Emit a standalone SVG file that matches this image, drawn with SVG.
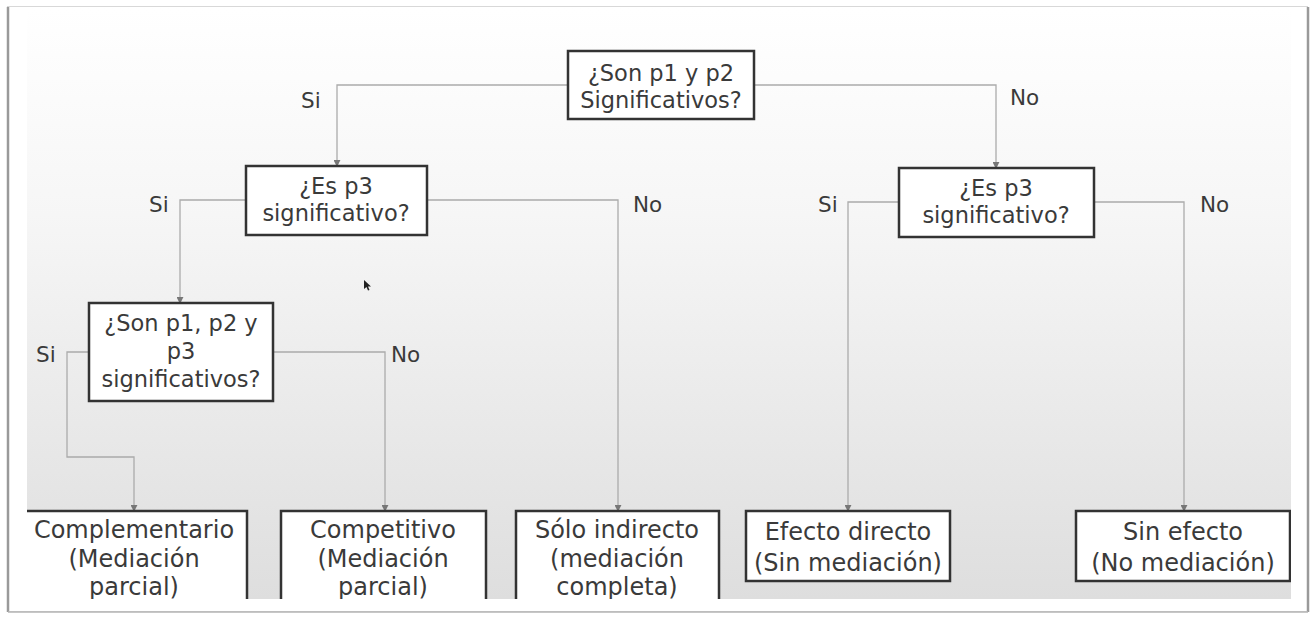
<svg xmlns="http://www.w3.org/2000/svg" width="1312" height="617" viewBox="0 0 1312 617">
  <defs>
    <linearGradient id="slideBg" x1="0" y1="0" x2="0" y2="1">
      <stop offset="0" stop-color="#ffffff"/>
      <stop offset="0.35" stop-color="#f6f6f6"/>
      <stop offset="1" stop-color="#dedede"/>
    </linearGradient>
    <clipPath id="slideClip">
      <rect x="27" y="8" width="1264" height="591"/>
    </clipPath>
    <marker id="arrow" viewBox="0 0 8 8" refX="7" refY="4" markerWidth="7" markerHeight="7" markerUnits="userSpaceOnUse" orient="auto">
      <path d="M0,0 L8,4 L0,8 z" fill="#777"/>
    </marker>
    <style>
      .box { fill: #ffffff; stroke: #333333; stroke-width: 2.5; }
      .txt { font-family: "DejaVu Sans", "Liberation Sans", sans-serif; fill: #3a3a3a; text-anchor: middle; }
      .q { font-size: 22.5px; }
      .res { font-size: 24px; }
      .lbl { font-family: "DejaVu Sans", "Liberation Sans", sans-serif; fill: #3a3a3a; font-size: 21.5px; }
      .edge { fill: none; stroke: #ababab; stroke-width: 1.3; }
      .edgeA { fill: none; stroke: #ababab; stroke-width: 1.3; marker-end: url(#arrow); }
    </style>
  </defs>

  <!-- page frame -->
  <rect x="0" y="0" width="1312" height="617" fill="#ffffff"/>
  <rect x="7.5" y="6.5" width="1300" height="605" fill="#ffffff" stroke="#d8d8d8" stroke-width="1"/>
  <line x1="8" y1="7" x2="8" y2="612" stroke="#9a9a9a" stroke-width="2.5"/>
  <line x1="1308" y1="7" x2="1308" y2="612" stroke="#9a9a9a" stroke-width="2.5"/>
  <line x1="8" y1="612" x2="1308" y2="612" stroke="#b5b5b5" stroke-width="1.5"/>

  <!-- slide area -->
  <rect x="27" y="8" width="1264" height="591" fill="url(#slideBg)"/>

  <g clip-path="url(#slideClip)">
    <!-- connectors -->
    <g id="connectors">
      <polyline class="edgeA" points="568,85 337,85 337,166"/>
      <polyline class="edgeA" points="754,85 996,85 996,168"/>
      <polyline class="edgeA" points="246,200 180,200 180,303"/>
      <polyline class="edgeA" points="427,200 618,200 618,511"/>
      <polyline class="edgeA" points="899,202 848,202 848,511"/>
      <polyline class="edgeA" points="1094,202 1184,202 1184,511"/>
      <polyline class="edgeA" points="89,352 67,352 67,457 134,457 134,511"/>
      <polyline class="edgeA" points="273,352 385,352 385,511"/>
    </g>

    <!-- branch labels -->
    <g id="labels">
      <text class="lbl" x="301" y="108">Si</text>
      <text class="lbl" x="1010" y="105">No</text>
      <text class="lbl" x="149" y="212">Si</text>
      <text class="lbl" x="633" y="212">No</text>
      <text class="lbl" x="818" y="212">Si</text>
      <text class="lbl" x="1200" y="212">No</text>
      <text class="lbl" x="36" y="362">Si</text>
      <text class="lbl" x="391" y="362">No</text>
    </g>

    <!-- decision nodes -->
    <g id="q-p1p2">
      <rect class="box" x="568" y="51" width="186" height="68"/>
      <text class="txt q" x="661" y="81">¿Son p1 y p2</text>
      <text class="txt q" x="661" y="108">Significativos?</text>
    </g>
    <g id="q-p3-left">
      <rect class="box" x="246" y="166" width="181" height="69"/>
      <text class="txt q" x="336" y="194">¿Es p3</text>
      <text class="txt q" x="336" y="221">significativo?</text>
    </g>
    <g id="q-p3-right">
      <rect class="box" x="899" y="168" width="195" height="69"/>
      <text class="txt q" x="996" y="196">¿Es p3</text>
      <text class="txt q" x="996" y="223">significativo?</text>
    </g>
    <g id="q-p1p2p3">
      <rect class="box" x="89" y="303" width="184" height="98"/>
      <text class="txt q" x="181" y="331">¿Son p1, p2 y</text>
      <text class="txt q" x="181" y="359">p3</text>
      <text class="txt q" x="181" y="387">significativos?</text>
    </g>

    <!-- outcome nodes -->
    <g id="r-complementario">
      <rect class="box" x="18" y="511" width="229" height="100"/>
      <text class="txt res" x="134" y="538">Complementario</text>
      <text class="txt res" x="134" y="567">(Mediación</text>
      <text class="txt res" x="134" y="595">parcial)</text>
    </g>
    <g id="r-competitivo">
      <rect class="box" x="281" y="511" width="205" height="100"/>
      <text class="txt res" x="383" y="538">Competitivo</text>
      <text class="txt res" x="383" y="567">(Mediación</text>
      <text class="txt res" x="383" y="595">parcial)</text>
    </g>
    <g id="r-solo-indirecto">
      <rect class="box" x="516" y="511" width="203" height="100"/>
      <text class="txt res" x="617" y="538">Sólo indirecto</text>
      <text class="txt res" x="617" y="567">(mediación</text>
      <text class="txt res" x="617" y="595">completa)</text>
    </g>
    <g id="r-efecto-directo">
      <rect class="box" x="746" y="511" width="204" height="70"/>
      <text class="txt res" x="848" y="540">Efecto directo</text>
      <text class="txt res" x="848" y="571">(Sin mediación)</text>
    </g>
    <g id="r-sin-efecto">
      <rect class="box" x="1076" y="511" width="214" height="70"/>
      <text class="txt res" x="1183" y="540">Sin efecto</text>
      <text class="txt res" x="1183" y="571">(No mediación)</text>
    </g>

    <!-- pointer -->
    <path d="M364,280 L364,289 L366.5,287 L368,290.5 L369.5,290 L368,286.5 L371,286.5 z" fill="#222"/>
  </g>
</svg>
